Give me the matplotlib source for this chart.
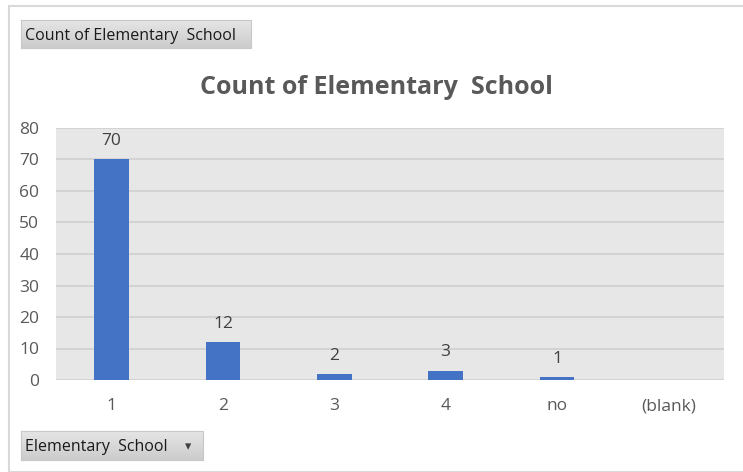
import matplotlib
matplotlib.use("Agg")
import matplotlib.pyplot as plt
from matplotlib.patches import Rectangle
import numpy as np

categories = ["1", "2", "3", "4", "no", "(blank)"]
counts = [70, 12, 2, 3, 1, None]
yticks = [0, 10, 20, 30, 40, 50, 60, 70, 80]
title = "Count of Elementary  School"

W, H = 743, 472
fig = plt.figure(figsize=(W / 100, H / 100), dpi=100)
fig.patch.set_facecolor("white")
FONT = "Open Sans"
TXT = "#595959"

# outer frame
fig.add_artist(Rectangle((9 / W, 0), 1, 1 - 6 / H, transform=fig.transFigure,
                         fill=False, edgecolor="#d9d9d9", lw=1.5))

ax = fig.add_axes([56 / W, 1 - 380 / H, (724 - 56) / W, (380 - 128) / H])
ax.set_facecolor("#e7e7e7")
x = np.arange(len(categories))
vals = [v if v is not None else 0 for v in counts]
ax.bar(x, vals, width=0.31, color="#4472c4", zorder=3)
for xi, v in zip(x, counts):
    if v is not None:
        ax.text(xi, v + 3.2, str(v), ha="center", va="bottom", fontsize=12.5,
                color="#404040", family=FONT)
ax.set_xlim(-0.5, len(categories) - 0.5)
ax.set_ylim(0, 80)
ax.set_yticks(yticks)
ax.set_xticks(x)
ax.set_xticklabels(categories)
ax.yaxis.grid(True, color="#d0d0d0", lw=1.2, zorder=0)
ax.set_axisbelow(True)
for s in ax.spines.values():
    s.set_visible(False)
ax.tick_params(length=0, labelsize=12.5, labelcolor=TXT)
for lab in ax.get_xticklabels() + ax.get_yticklabels():
    lab.set_family(FONT)
ax.tick_params(axis="x", pad=13)
ax.tick_params(axis="y", pad=12)

fig.text(376 / W, 1 - 88 / H, title, ha="center", va="center", fontsize=18,
         fontweight="bold", color=TXT, family=FONT)

def button(x0, y0, x1, y1, text):
    # light-to-dark vertical gradient like the pivot field buttons
    grad = np.linspace(0.90, 0.80, 32).reshape(-1, 1)
    bax = fig.add_axes([x0 / W, 1 - y1 / H, (x1 - x0) / W, (y1 - y0) / H])
    bax.imshow(np.dstack([grad, grad, grad]), aspect="auto", extent=(0, 1, 0, 1))
    bax.set_xticks([])
    bax.set_yticks([])
    for s in bax.spines.values():
        s.set_color("#c8c8c8")
        s.set_linewidth(0.8)
    fig.text((x0 + 4) / W, 1 - ((y0 + y1) / 2 + 1.5) / H, text, ha="left",
             va="center", fontsize=11.5, color="#1a1a1a", family=FONT)

button(21, 20, 251, 48, "Count of Elementary  School")
button(21, 431, 203, 460, "Elementary  School")
fig.text(188 / W, 1 - 447 / H, "\u25BE", ha="center", va="center", fontsize=9,
         color="#404040", family="DejaVu Sans")

fig.savefig("out.png", dpi=100)
